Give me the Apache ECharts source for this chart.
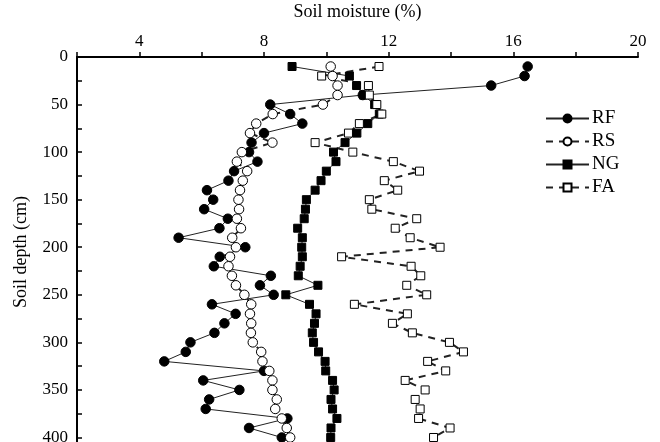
<!DOCTYPE html>
<html>
<head>
<meta charset="utf-8">
<script src="https://cdn.jsdelivr.net/npm/echarts@6/dist/echarts.min.js"></script>
<style>
html,body{margin:0;padding:0;background:#fff;}
#chart{width:660px;height:442px;}
</style>
</head>
<body>
<div id="chart"></div>
<script>
const depths = [10,20,30,40,50,60,70,80,90,100,110,120,130,140,150,160,170,180,190,200,210,220,230,240,250,260,270,280,290,300,310,320,330,340,350,360,370,380,390,400];
const seriesNames = ['RF','RS','NG','FA'];
const RF = [16.46,16.36,15.29,11.17,8.2,8.84,9.23,8.0,7.6,7.52,7.79,7.04,6.86,6.17,6.37,6.08,6.84,6.57,5.26,7.4,6.58,6.39,8.22,7.87,8.31,6.33,7.09,6.73,6.41,5.64,5.49,4.8,8.0,6.05,7.21,6.24,6.13,8.75,7.52,8.57];
const RS = [10.14,10.2,10.36,10.36,9.89,8.28,7.75,7.55,8.27,7.29,7.13,7.46,7.32,7.23,7.18,7.2,7.13,7.26,6.98,7.1,6.91,6.86,6.97,7.1,7.37,7.59,7.55,7.59,7.58,7.64,7.91,7.95,8.17,8.27,8.27,8.41,8.36,8.57,8.73,8.84];
const NG = [8.9,10.74,10.97,11.19,11.55,11.7,11.33,10.98,10.6,10.23,10.31,10.0,9.83,9.64,9.36,9.33,9.29,9.08,9.23,9.21,9.23,9.16,9.1,9.73,8.7,9.46,9.67,9.62,9.55,9.59,9.75,9.96,9.98,10.2,10.25,10.15,10.2,10.34,10.15,10.14];
const FA = [11.69,9.85,11.35,11.38,11.62,11.78,11.06,10.71,9.64,10.85,12.15,12.99,11.86,12.29,11.38,11.46,12.9,12.21,12.69,13.65,10.49,12.72,13.03,12.58,13.22,10.9,12.6,12.12,12.76,13.95,14.4,13.25,13.83,12.53,13.17,12.85,13.01,12.96,13.97,13.44];
const xTickLabels = [4,8,12,16,20];
const yTickLabels = [0,50,100,150,200,250,300,350,400];

const FONT = 'Liberation Serif';
function pairs(vals){ return vals.map((v,i)=>[v, depths[i]]); }

const styles = {
  RF: {symbol:'circle', size:9.5, fill:'#000', dash:'solid', lw:1},
  RS: {symbol:'circle', size:9.5, fill:'#fff', dash:[7,6], lw:2},
  NG: {symbol:'rect', size:8, fill:'#000', dash:'solid', lw:1},
  FA: {symbol:'rect', size:8, fill:'#fff', dash:[7,6], lw:2}
};
const dataMap = {RF, RS, NG, FA};

const chart = echarts.init(document.getElementById('chart'));
chart.setOption({
  backgroundColor:'#fff',
  animation:false,
  grid:{left:77, width:561, top:57, height:390, containLabel:false, outerBoundsMode:'none'},
  legend:{
    orient:'vertical', left:540, top:104,
    itemWidth:43, itemHeight:10, itemGap:4,
    textStyle:{fontFamily:FONT, fontSize:19, color:'#000', padding:[0,0,0,-2]},
    data: seriesNames
  },
  xAxis:{
    type:'value', position:'top', min:2, max:20, interval:2,
    name:'Soil moisture (%)', nameLocation:'middle', nameGap:36,
    nameTextStyle:{fontFamily:FONT, fontSize:18, color:'#000'},
    axisLine:{onZero:false, lineStyle:{color:'#000', width:2}},
    axisTick:{show:true, inside:false, length:5, lineStyle:{color:'#000', width:1.5}},
    axisLabel:{fontFamily:FONT, fontSize:17, color:'#000', margin:7,
      formatter:v=> xTickLabels.includes(v) ? String(v) : ''},
    splitLine:{show:false}
  },
  yAxis:{
    type:'value', inverse:true, min:0, max:410, interval:25,
    name:'Soil depth (cm)', nameLocation:'middle', nameGap:47,
    nameTextStyle:{fontFamily:FONT, fontSize:18, color:'#000'},
    axisLine:{onZero:false, lineStyle:{color:'#000', width:2}},
    axisTick:{show:true, inside:true, length:5, lineStyle:{color:'#000', width:1.5}},
    axisLabel:{fontFamily:FONT, fontSize:17, color:'#000', margin:9,
      formatter:v=> yTickLabels.includes(v) ? String(v) : ''},
    splitLine:{show:false}
  },
  series: seriesNames.map(n=>{
    const s = styles[n];
    return {
      name:n, type:'line', data:pairs(dataMap[n]),
      symbol:s.symbol, symbolSize:s.size, showAllSymbol:true,
      lineStyle:{color:'#222', width:s.lw, type:s.dash},
      itemStyle:{color:s.fill, borderColor:'#000', borderWidth:1},
      emphasis:{disabled:true}
    };
  })
});
</script>
</body>
</html>
